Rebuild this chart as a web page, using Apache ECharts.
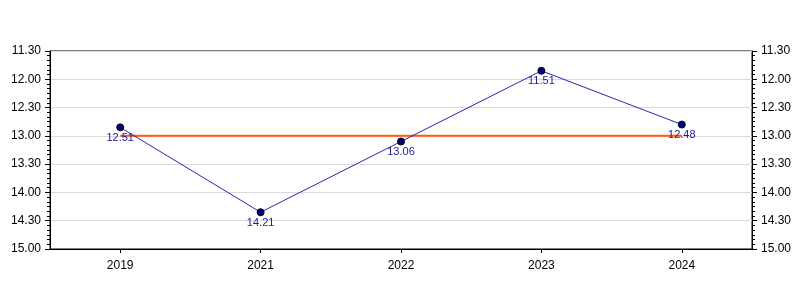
<!DOCTYPE html>
<html>
<head>
<meta charset="utf-8">
<script src="https://cdn.jsdelivr.net/npm/echarts@6/dist/echarts.min.js"></script>
<style>html,body{margin:0;padding:0;background:#fff}#c{width:800px;height:300px}</style>
</head>
<body>
<div id="c"></div>
<script>
// Categories (years)
var years = ['2019', '2021', '2022', '2023', '2024'];
// Times as minutes.seconds labels
var timeLabels = ['12.51', '14.21', '13.06', '11.51', '12.48'];
// Same times in seconds
var timeSeconds = [771, 861, 786, 711, 768];
// Target line: 13.00 = 780 s
var targetSeconds = [780, 780, 780, 780, 780];
// Axis range in seconds (11.30 to 15.00)
var axisMin = 690, axisMax = 900, axisStep = 30;

function fmt(v) {
  var m = Math.floor(v / 60), s = Math.round(v - m * 60);
  return m + '.' + (s < 10 ? '0' + s : s);
}

var FONT = 'Liberation Sans, Arial, sans-serif';

var yAxisBase = {
  type: 'value',
  inverse: true,
  min: axisMin,
  max: axisMax,
  interval: axisStep,
  axisLine: {show: true, lineStyle: {color: '#000', width: 1}},
  axisTick: {show: true, length: 5, lineStyle: {color: '#000'}},
  minorTick: {show: true, splitNumber: 6, length: 3, lineStyle: {color: '#000'}},
  axisLabel: {formatter: fmt, color: '#000', fontSize: 12, fontFamily: FONT, margin: 9},
  splitLine: {show: true, lineStyle: {color: '#d9d9d9', width: 1}}
};

var chart = echarts.init(document.getElementById('c'), null, {renderer: 'canvas'});
chart.setOption({
  animation: false,
  backgroundColor: '#fff',
  grid: {left: 50, right: 48, top: 51, bottom: 51, show: true, borderColor: '#000', borderWidth: 1, backgroundColor: 'transparent'},
  xAxis: {
    type: 'category',
    data: years,
    boundaryGap: true,
    axisLine: {show: true, lineStyle: {color: '#000', width: 1}},
    axisTick: {show: true, alignWithLabel: true, length: 4, lineStyle: {color: '#000'}},
    axisLabel: {color: '#000', fontSize: 12, fontFamily: FONT, margin: 11},
    splitLine: {show: false}
  },
  yAxis: [
    Object.assign({}, yAxisBase, {position: 'left'}),
    Object.assign({}, yAxisBase, {position: 'right', splitLine: {show: false}})
  ],
  series: [
    {
      type: 'line',
      data: targetSeconds,
      yAxisIndex: 0,
      symbol: 'none',
      lineStyle: {color: '#ff5a10', width: 2},
      z: 2
    },
    {
      type: 'line',
      data: timeSeconds,
      yAxisIndex: 0,
      symbol: 'circle',
      symbolSize: 7,
      itemStyle: {color: '#000080', borderColor: '#000', borderWidth: 1},
      lineStyle: {color: '#2828b4', width: 1},
      label: {
        show: true,
        position: 'bottom',
        distance: 1,
        color: '#1a1aa0',
        fontSize: 11,
        fontFamily: FONT,
        formatter: function (p) { return timeLabels[p.dataIndex]; }
      },
      z: 3
    }
  ]
});
</script>
</body>
</html>
